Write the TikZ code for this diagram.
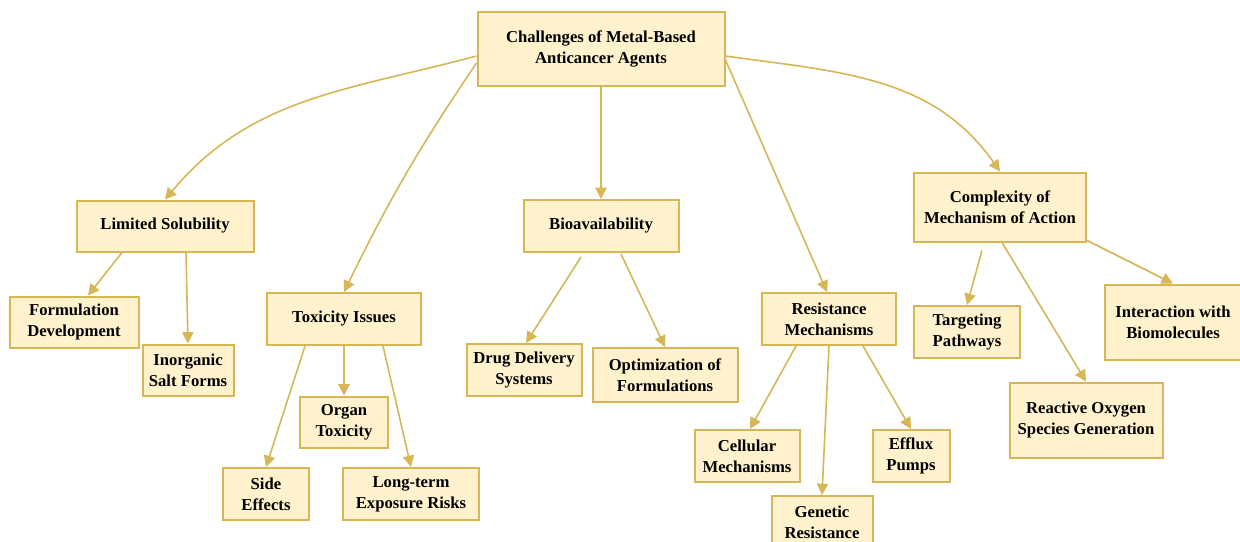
\documentclass[tikz,border=0pt]{standalone}
\usepackage{fontspec}
\setmainfont{Liberation Serif}
\usepackage{tikz}
\usetikzlibrary{arrows.meta,calc}
\definecolor{boxfill}{HTML}{FFF2CC}
\definecolor{boxline}{HTML}{D6B656}

\begin{document}
\begin{tikzpicture}[x=0.75pt, y=0.75pt, line width=1.1pt,
    box/.style={draw=boxline, fill=boxfill, line width=1.5pt, align=center, inner sep=2pt,
        font=\fontsize{12.5}{15.75}\selectfont\bfseries},
    boxsize/.style 2 args={minimum width=#1*0.75pt, minimum height=#2*0.75pt},
    link/.style={draw=boxline, line width=1.2pt, -{Triangle[length=8.5pt, width=8.5pt]}}]
    \useasboundingbox (0,0) rectangle (1240,-542);

    % Wurzel.
    \node[box, boxsize={247}{74}] (root) at (601,-49) {Challenges of Metal-Based\\Anticancer Agents};

    % Erste Ebene.
    \node[box, boxsize={177}{51}] (ls) at (165,-226) {Limited Solubility};
    \node[box, boxsize={154}{52}] (tox) at (344,-319) {Toxicity Issues};
    \node[box, boxsize={155}{52}] (bio) at (601,-226) {Bioavailability};
    \node[box, boxsize={134}{52}] (res) at (829,-319) {Resistance\\Mechanisms};
    \node[box, boxsize={172}{69}] (cplx) at (1000,-207) {Complexity of\\Mechanism of Action};

    % Zweite Ebene.
    \node[box, boxsize={129}{51}] (form) at (74,-322) {Formulation\\Development};
    \node[box, boxsize={91}{51}] (salt) at (188,-370) {Inorganic\\Salt Forms};
    \node[box, boxsize={88}{51}] (organ) at (344,-422) {Organ\\Toxicity};
    \node[box, boxsize={86}{52}] (side) at (266,-494) {Side\\Effects};
    \node[box, boxsize={136}{52}] (long) at (411,-494) {Long-term\\Exposure Risks};
    \node[box, boxsize={115}{52}] (drug) at (524,-370) {Drug Delivery\\Systems};
    \node[box, boxsize={145}{54}] (opt) at (665,-375) {Optimization of\\Formulations};
    \node[box, boxsize={105}{52}] (cell) at (747,-456) {Cellular\\Mechanisms};
    \node[box, boxsize={101}{52}] (gen) at (822,-522) {Genetic\\Resistance};
    \node[box, boxsize={77}{52}] (efflux) at (911,-456) {Efflux\\Pumps};
    \node[box, boxsize={106}{52}] (target) at (967,-332) {Targeting\\Pathways};
    \node[box, boxsize={136}{75}] (inter) at (1173,-322) {Interaction with\\Biomolecules};
    \node[box, boxsize={153}{75}] (ros) at (1086,-420) {Reactive Oxygen\\Species Generation};

    % Pfeile von der Wurzel.
    \draw[link] ($(root.west)+(0,-7)$) to[out=195, in=50] (ls.north);
    \draw[link] ($(root.west)+(0,-14)$) to[bend right=4] (tox.north);
    \draw[link] (root.south) -- (bio.north);
    \draw[link] ($(root.east)+(0,-11)$) -- ($(res.north)+(-2,0)$);
    \draw[link] ($(root.east)+(0,-7)$) to[out=-8, in=125] (cplx.north);

    % Pfeile zur zweiten Ebene.
    \draw[link] ($(ls.south)+(-43,0)$) -- ($(form.north)+(14,0)$);
    \draw[link] ($(ls.south)+(21,0)$) -- (salt.north);
    \draw[link] ($(tox.south)+(-39,0)$) -- (side.north);
    \draw[link] (tox.south) -- (organ.north);
    \draw[link] ($(tox.south)+(39,0)$) -- (long.north);
    \draw[link] ($(bio.south)+(-20,-4)$) -- ($(drug.north)+(2,0)$);
    \draw[link] ($(bio.south)+(20,-1)$) -- (opt.north);
    \draw[link] ($(res.south)+(-33,0)$) -- ($(cell.north)+(3,0)$);
    \draw[link] (res.south) -- (gen.north);
    \draw[link] ($(res.south)+(34,0)$) -- (efflux.north);
    \draw[link] ($(cplx.south)+(-18,-8)$) -- (target.north);
    \draw[link] ($(cplx.south)+(2,0)$) -- (ros.north);
    \draw[link] ($(cplx.south east)+(0,2)$) -- (inter.north);
\end{tikzpicture}
\end{document}
